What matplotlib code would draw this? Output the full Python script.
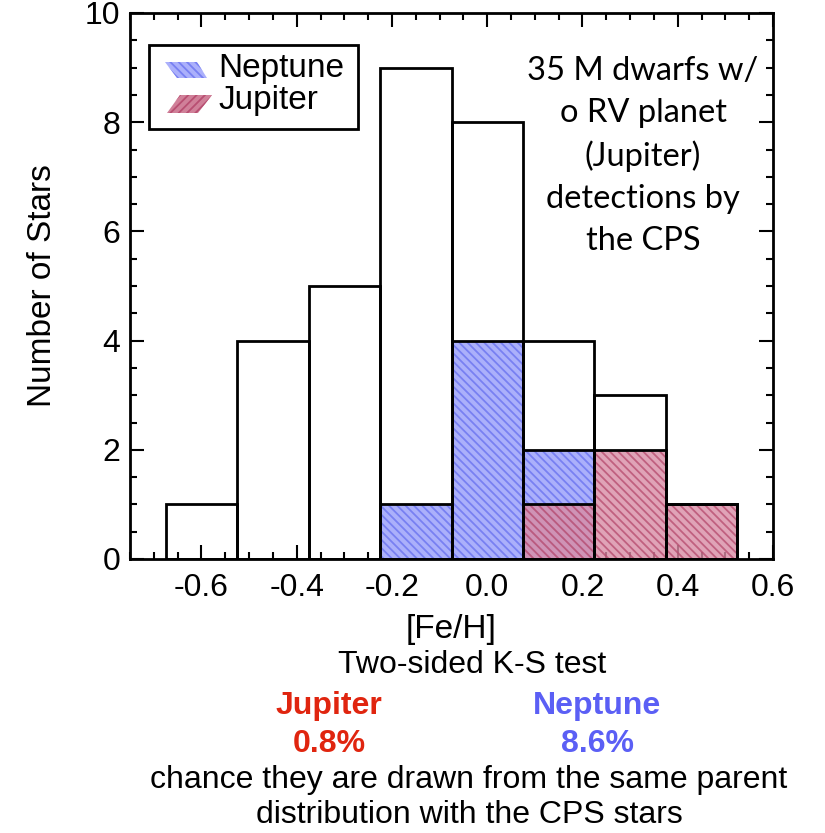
import matplotlib
matplotlib.use("Agg")
import matplotlib.pyplot as plt
from matplotlib.patches import Polygon, Rectangle
from matplotlib.ticker import MultipleLocator
import numpy as np

plt.rcParams['font.family'] = ['Liberation Sans', 'DejaVu Sans']
plt.rcParams['hatch.linewidth'] = 1.3

# Histogram bins in [Fe/H]
bin_edges = [-0.675, -0.525, -0.375, -0.225, -0.075, 0.075, 0.225, 0.375, 0.525]
cps_counts = [1, 4, 5, 9, 8, 4, 3, 1]
neptune_counts = [0, 0, 0, 1, 4, 2, 0, 0]
jupiter_counts = [0, 0, 0, 0, 0, 1, 2, 1]

x_ticks = [-0.6, -0.4, -0.2, 0.0, 0.2, 0.4, 0.6]
x_tick_labels = ["-0.6", "-0.4", "-0.2", "0.0", "0.2", "0.4", "0.6"]
y_ticks = [0, 2, 4, 6, 8, 10]

nep_face, nep_hatch = '#abb0fb', '#7880f2'
jup_face, jup_hatch = '#d98ca5', '#b84f72'

fig = plt.figure(figsize=(8.25, 8.33), dpi=100)
ax = fig.add_axes([130 / 825, 1 - 559 / 833, 643 / 825, 546 / 833])

edges = np.array(bin_edges)
lefts = edges[:-1]
widths = np.diff(edges)

# hatched planet-host histograms
ax.bar(lefts, neptune_counts, width=widths, align='edge', facecolor=nep_face,
       edgecolor=nep_hatch, hatch='\\\\\\\\', linewidth=0, zorder=3)
ax.bar(lefts, jupiter_counts, width=widths, align='edge', facecolor=jup_face,
       edgecolor=jup_hatch, hatch='\\\\\\\\', linewidth=0, alpha=0.8, zorder=3.2)

# black outlines of all three histograms
for counts in (cps_counts, neptune_counts, jupiter_counts):
    ax.bar(lefts, counts, width=widths, align='edge', fill=False,
           edgecolor='black', linewidth=2.0, zorder=4)

ax.set_xlim(-0.75, 0.6)
ax.set_ylim(0, 10)
ax.set_xticks(x_ticks)
ax.set_xticklabels(x_tick_labels)
ax.set_yticks(y_ticks)
ax.xaxis.set_minor_locator(MultipleLocator(0.05))
ax.yaxis.set_minor_locator(MultipleLocator(0.5))
ax.tick_params(which='both', direction='in', top=True, right=True, width=1.5,
               labelsize=23, color='black')
ax.tick_params(which='major', length=10)
ax.tick_params(which='minor', length=5)
ax.tick_params(axis='x', which='major', pad=10)
ax.tick_params(axis='y', which='major', pad=7)
for s in ax.spines.values():
    s.set_linewidth(2.0)

ax.set_xlabel('[Fe/H]', fontsize=24, labelpad=8)
ax.set_ylabel('Number of Stars', fontsize=24, labelpad=19)

# legend drawn from parallelogram swatches
def px(x, y):
    return ((x - 130) / 643, (559 - y) / 546)

ax.add_patch(Rectangle(px(149, 129), (358 - 149) / 643, (129 - 45) / 546,
                       transform=ax.transAxes, facecolor='white',
                       edgecolor='black', linewidth=2.0, zorder=5))
blue_shape = [px(165, 62), px(197, 62), px(207, 78), px(177, 78)]
red_shape = [px(180, 95), px(212, 95), px(198, 113), px(167, 113)]
ax.add_patch(Polygon(blue_shape, closed=True, transform=ax.transAxes,
                     facecolor=nep_face, edgecolor=nep_hatch, hatch='\\\\\\\\',
                     linewidth=0, zorder=6))
ax.add_patch(Polygon(red_shape, closed=True, transform=ax.transAxes,
                     facecolor='#d08099', edgecolor=jup_hatch, hatch='////',
                     linewidth=0, zorder=6))
ax.text(*px(218, 68), 'Neptune', transform=ax.transAxes, fontsize=24,
        ha='left', va='center', zorder=7)
ax.text(*px(218, 101), 'Jupiter', transform=ax.transAxes, fontsize=24,
        ha='left', va='center', zorder=7)

# sample description
fig.text(643 / 825, 1 - 56 / 833,
         '35 M dwarfs w/\no RV planet\n(Jupiter)\ndetections by\nthe CPS',
         ha='center', va='top', fontsize=23.5, family=['Lato', 'DejaVu Sans'],
         linespacing=1.5)

# K-S test summary
fig.text(472 / 825, 1 - 665 / 833, 'Two-sided K-S test', ha='center',
         va='center', fontsize=23)
fig.text(329 / 825, 1 - 706 / 833, 'Jupiter', ha='center', va='center',
         fontsize=23, fontweight='bold', color='#e0250f')
fig.text(329 / 825, 1 - 744 / 833, '0.8%', ha='center', va='center',
         fontsize=23, fontweight='bold', color='#e0250f')
fig.text(597 / 825, 1 - 706 / 833, 'Neptune', ha='center', va='center',
         fontsize=23, fontweight='bold', color='#5b5ff5')
fig.text(597 / 825, 1 - 744 / 833, '8.6%', ha='center', va='center',
         fontsize=23, fontweight='bold', color='#5b5ff5')
fig.text(469 / 825, 1 - 780 / 833, 'chance they are drawn from the same parent',
         ha='center', va='center', fontsize=23)
fig.text(469 / 825, 1 - 815 / 833, 'distribution with the CPS stars',
         ha='center', va='center', fontsize=23)

fig.savefig('out.png', dpi=100)
